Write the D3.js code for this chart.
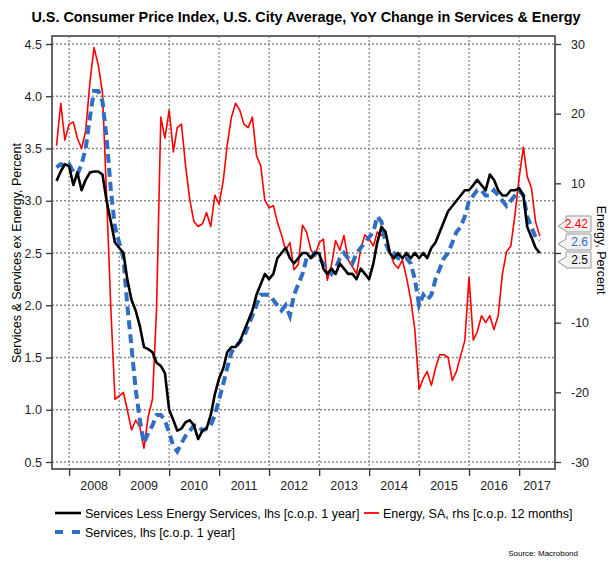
<!DOCTYPE html>
<html>
<head>
<meta charset="utf-8">
<script src="https://cdn.jsdelivr.net/npm/d3@7"></script>
<style>
  body { margin: 0; background: #fff; }
  svg { font-family: "Liberation Sans", Arial, sans-serif; }
</style>
</head>
<body>
<div id="chart"></div>
<script>
// monthly observations, Oct 2007 .. Jun 2017
const startDate = new Date(2007, 9, 1);

const servicesExEnergy = [
  3.19, 3.28, 3.35,
  3.33, 3.15, 3.27, 3.10, 3.20, 3.27, 3.28, 3.28, 3.25, 3.00, 2.80, 2.60,
  2.55, 2.50, 2.25, 2.05, 1.95, 1.80, 1.60, 1.58, 1.55, 1.45, 1.42, 1.35,
  1.00, 0.90, 0.80, 0.82, 0.88, 0.90, 0.85, 0.72, 0.80, 0.82, 0.95, 1.15,
  1.30, 1.40, 1.55, 1.60, 1.60, 1.65, 1.75, 1.85, 1.95, 2.10, 2.20, 2.30,
  2.25, 2.30, 2.45, 2.50, 2.55, 2.45, 2.40, 2.45, 2.50, 2.50, 2.45, 2.50,
  2.50, 2.35, 2.30, 2.35, 2.30, 2.40, 2.35, 2.30, 2.30, 2.25, 2.35, 2.30,
  2.25, 2.40, 2.60, 2.75, 2.70, 2.50, 2.45, 2.50, 2.45, 2.50, 2.45, 2.50,
  2.45, 2.50, 2.45, 2.55, 2.60, 2.70, 2.80, 2.90, 2.95, 3.00, 3.05, 3.10,
  3.10, 3.15, 3.20, 3.15, 3.10, 3.25, 3.20, 3.10, 3.05, 3.05, 3.10, 3.10,
  3.12, 3.05, 2.75, 2.65, 2.55, 2.50
];

const services = [
  3.32, 3.35, 3.33,
  3.35, 3.28, 3.25, 3.35, 3.50, 3.80, 4.05, 4.05, 3.95, 3.60, 3.10, 2.75,
  2.60, 2.45, 2.00, 1.60, 1.20, 0.90, 0.68, 0.78, 0.85, 0.95, 0.95, 0.90,
  0.78, 0.65, 0.60, 0.68, 0.75, 0.80, 0.85, 0.85, 0.80, 0.82, 0.85, 0.95,
  1.10, 1.25, 1.40, 1.55, 1.60, 1.65, 1.70, 1.80, 1.90, 2.00, 2.10, 2.10,
  2.10, 2.05, 2.00, 1.95, 2.00, 1.90, 2.10, 2.20, 2.30, 2.45, 2.45, 2.50,
  2.45, 2.40, 2.35, 2.30, 2.35, 2.45, 2.50, 2.45, 2.40, 2.50, 2.55, 2.60,
  2.65, 2.70, 2.85, 2.80, 2.60, 2.50, 2.50, 2.45, 2.45, 2.45, 2.40, 2.25,
  2.00, 2.10, 2.05, 2.10, 2.25, 2.35, 2.45, 2.50, 2.60, 2.70, 2.75, 2.85,
  3.00, 3.05, 3.10, 3.10, 3.05, 3.05, 3.10, 3.05, 3.00, 2.95, 3.00, 3.05,
  3.10, 3.05, 2.85, 2.75, 2.65, 2.62
];

const energy = [
  15.4, 21.5, 16.2,
  18.5, 18.8, 16.5, 15.0, 17.5, 24.5, 29.5, 27.0, 23.0, 8.0, -8.0, -21.0,
  -20.5, -20.0, -22.5, -25.4, -24.0, -25.0, -28.0, -23.5, -21.0, -8.0, 19.5, 16.5,
  20.5, 14.5, 18.0, 18.5, 12.5, 7.6, 4.5, 3.8, 4.2, 5.8, 3.8, 8.3,
  7.0, 10.5, 15.5, 19.5, 21.5, 20.5, 18.5, 18.0, 19.5, 14.0, 12.5, 7.6,
  6.5, 6.8, 4.5, 2.6, 0.4, 1.5, -2.4, -1.7, 4.0, 3.0, 0.5, -0.5,
  1.5, 2.0, -3.9, -1.7, 1.8, 0.4, 2.5, -1.0, -2.0, -3.0, 0.6, 2.6,
  2.0, 1.0, 3.0, 2.5, 3.2, 0.2, -1.5, -2.2, -1.0, -3.5, -6.7, -11.0,
  -19.6, -18.0, -17.0, -19.0, -16.5, -14.6, -14.6, -15.0, -18.3, -17.0, -14.7, -12.6,
  -3.5, -12.5, -11.3, -9.0, -10.0, -9.0, -11.0, -9.0, -3.0, 0.2, 1.0, 5.4,
  10.8, 15.2, 11.0, 9.3, 4.5, 2.42
];

const yearLabels = ["2008", "2009", "2010", "2011", "2012", "2013", "2014", "2015", "2016", "2017"];
const leftTicks = [0.5, 1.0, 1.5, 2.0, 2.5, 3.0, 3.5, 4.0, 4.5];
const rightTicks = [-30, -20, -10, 0, 10, 20, 30];
const lastLabels = ["2.42", "2.6", "2.5"];

const width = 612, height = 561;
const plotL = 52, plotR = 555, plotT = 36, plotB = 469;

const svg = d3.select("#chart").append("svg")
  .attr("width", width)
  .attr("height", height);

const x = d3.scaleTime()
  .domain([new Date(2007, 7, 29), new Date(2017, 8, 20)])
  .range([plotL, plotR]);

// both axes share the grid: 4.5 <-> 30, 0.5 <-> -30
const yLeft = d3.scaleLinear().domain([0.5, 4.5]).range([462, 44]);
const yRight = d3.scaleLinear().domain([-30, 30]).range([462, 44]);

const dateOf = (i) => d3.timeMonth.offset(startDate, i);

// title
svg.append("text")
  .attr("x", 306).attr("y", 22)
  .attr("text-anchor", "middle")
  .attr("font-size", 14.4)
  .attr("font-weight", "bold")
  .text("U.S. Consumer Price Index, U.S. City Average, YoY Change in Services & Energy");

// grid
const grid = svg.append("g")
  .attr("stroke", "#8a8a8a")
  .attr("stroke-width", 1.3)
  .attr("stroke-dasharray", "2,2");

grid.selectAll("line.h")
  .data(leftTicks)
  .enter().append("line")
  .attr("x1", plotL).attr("x2", plotR)
  .attr("y1", d => yLeft(d)).attr("y2", d => yLeft(d));

const yearTicks = yearLabels.map(y => new Date(+y, 0, 1));

grid.selectAll("line.v")
  .data(yearTicks)
  .enter().append("line")
  .attr("x1", d => x(d)).attr("x2", d => x(d))
  .attr("y1", plotT).attr("y2", plotB);

// series
svg.append("clipPath").attr("id", "plot")
  .append("rect").attr("x", plotL).attr("y", plotT)
  .attr("width", plotR - plotL).attr("height", plotB - plotT);

const plot = svg.append("g").attr("clip-path", "url(#plot)");

const lineL = d3.line().x((d, i) => x(dateOf(i))).y(d => yLeft(d));
const lineR = d3.line().x((d, i) => x(dateOf(i))).y(d => yRight(d));

plot.append("path")
  .datum(energy)
  .attr("d", lineR)
  .attr("fill", "none")
  .attr("stroke", "#ff0000")
  .attr("stroke-width", 1.6)
  .attr("stroke-linejoin", "round");

plot.append("path")
  .datum(services)
  .attr("d", lineL)
  .attr("fill", "none")
  .attr("stroke", "#2f6ec4")
  .attr("stroke-width", 4)
  .attr("stroke-dasharray", "9,5");

plot.append("path")
  .datum(servicesExEnergy)
  .attr("d", lineL)
  .attr("fill", "none")
  .attr("stroke", "#000")
  .attr("stroke-width", 2.6)
  .attr("stroke-linejoin", "round");

// frame
svg.append("rect")
  .attr("x", plotL).attr("y", plotT)
  .attr("width", plotR - plotL).attr("height", plotB - plotT)
  .attr("fill", "none")
  .attr("stroke", "#666")
  .attr("stroke-width", 2);

// left axis
const axisL = svg.append("g")
  .attr("transform", `translate(${plotL},0)`)
  .call(d3.axisLeft(yLeft).tickValues(leftTicks).tickFormat(d3.format(".1f")).tickSize(6).tickPadding(4));

// right axis (the 0 label sits under the value tags, so leave it blank)
const axisR = svg.append("g")
  .attr("transform", `translate(${plotR},0)`)
  .call(d3.axisRight(yRight).tickValues(rightTicks).tickFormat(d => d === 0 ? "" : d).tickSize(6).tickPadding(10));

// bottom axis, labels sit between year ticks
const axisB = svg.append("g")
  .attr("transform", `translate(0,${plotB})`)
  .call(d3.axisBottom(x).tickValues(yearTicks).tickFormat("").tickSize(7));

[axisL, axisR, axisB].forEach(a => {
  a.select(".domain").remove();
  a.selectAll("line").attr("stroke", "#333").attr("stroke-width", 1.3);
  a.selectAll("text").attr("font-size", 12.5).attr("fill", "#222")
    .attr("font-family", "Liberation Sans, Arial, sans-serif");
});

svg.append("g").selectAll("text")
  .data(yearLabels)
  .enter().append("text")
  .attr("x", d => {
    const a = x(new Date(+d, 0, 1));
    const b = Math.min(x(new Date(+d + 1, 0, 1)), plotR);
    return (a + b) / 2;
  })
  .attr("y", 490)
  .attr("text-anchor", "middle")
  .attr("font-size", 12.5)
  .attr("fill", "#222")
  .text(d => d);

// axis titles
svg.append("text")
  .attr("transform", "translate(21,253) rotate(-90)")
  .attr("text-anchor", "middle")
  .attr("font-size", 12.5)
  .text("Services & Services ex Energy, Percent");

svg.append("text")
  .attr("transform", "translate(597,250) rotate(90)")
  .attr("text-anchor", "middle")
  .attr("font-size", 12.5)
  .text("Energy, Percent");

// last value callouts
const tagColors = ["#ff0000", "#2f6ec4", "#000"];
const tagCenters = [224, 242, 260];
const tags = svg.append("g").selectAll("g")
  .data(lastLabels)
  .enter().append("g")
  .attr("transform", (d, i) => `translate(0,${tagCenters[i]})`);

tags.append("path")
  .attr("d", "M558,2 L566,-3 L566,-8 L591,-8 L591,8 L566,8 L566,7 Z")
  .attr("fill", "#f2f2f2")
  .attr("stroke", "#9a9a9a")
  .attr("stroke-width", 1);

tags.append("text")
  .attr("x", 588).attr("y", 4.3)
  .attr("text-anchor", "end")
  .attr("font-size", 12)
  .attr("fill", (d, i) => tagColors[i])
  .text(d => d);

// legend
const legend = svg.append("g").attr("font-size", 12.5);
legend.append("line").attr("x1", 55).attr("x2", 81).attr("y1", 513).attr("y2", 513)
  .attr("stroke", "#000").attr("stroke-width", 2.6);
legend.append("text").attr("x", 85).attr("y", 517.5)
  .text("Services Less Energy Services, lhs [c.o.p. 1 year]");
legend.append("line").attr("x1", 364).attr("x2", 379).attr("y1", 513).attr("y2", 513)
  .attr("stroke", "#ff0000").attr("stroke-width", 1.8);
legend.append("text").attr("x", 383).attr("y", 517.5)
  .text("Energy, SA, rhs [c.o.p. 12 months]");
legend.append("line").attr("x1", 55).attr("x2", 81).attr("y1", 532).attr("y2", 532)
  .attr("stroke", "#2f6ec4").attr("stroke-width", 4).attr("stroke-dasharray", "8,9");
legend.append("text").attr("x", 85).attr("y", 536.5)
  .text("Services, lhs [c.o.p. 1 year]");

svg.append("text")
  .attr("x", 578).attr("y", 556)
  .attr("text-anchor", "end")
  .attr("font-size", 8)
  .text("Source: Macrobond");
</script>
</body>
</html>
